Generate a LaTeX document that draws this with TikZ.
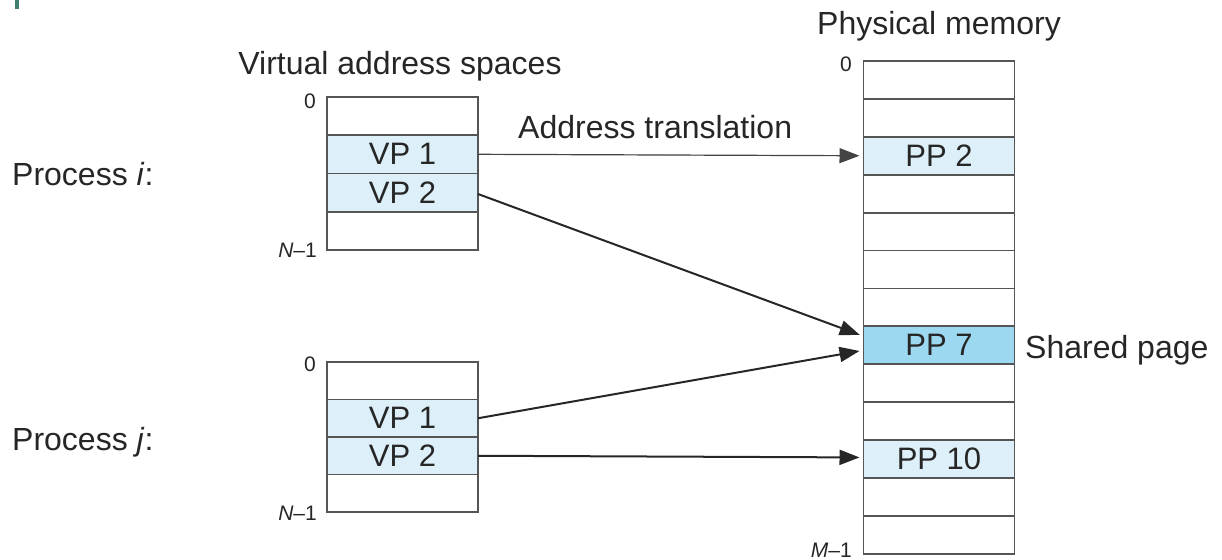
\documentclass[tikz,border=0pt]{standalone}
\usepackage{fontspec}
\setmainfont{Liberation Sans}
\usetikzlibrary{arrows.meta,calc}
\definecolor{lb}{HTML}{DDF0FA}
\definecolor{sb}{HTML}{9DD8F1}
\definecolor{linegray}{HTML}{555555}
\definecolor{textc}{HTML}{262626}
\definecolor{tealmark}{HTML}{3E7F6E}
\begin{document}
\begin{tikzpicture}[x=1pt,y=-1pt,
  cell/.style={draw=linegray,line width=1.8pt,minimum width=151pt,inner sep=0pt,outer sep=0pt,
    font=\fontsize{31}{31}\selectfont,text=textc,fill=white},
  vcell/.style={cell,minimum height=38.2pt},
  wcell/.style={cell,minimum height=37.5pt},
  pcell/.style={cell,minimum height=37.9pt},
  lbl/.style={font=\fontsize{32}{32}\selectfont,text=textc,inner sep=0pt},
  small/.style={font=\fontsize{21}{21}\selectfont,text=textc,inner sep=0pt},
  arr/.style={-{Triangle[length=20pt,width=15pt]},line width=2pt,draw=textc,fill=textc,shorten >=4pt},
  thinarr/.style={arr,line width=1.2pt,draw=linegray!80!black,fill=linegray!80!black}
]
\useasboundingbox (0,0) rectangle (1222,559);
\fill[tealmark] (15,0) rectangle (19,9);

% virtual address space of process i
\node[vcell] (vi0) at (402.5,116.1) {};
\node[vcell,fill=lb] (vi1) at (402.5,154.3) {VP 1};
\node[vcell,fill=lb] (vi2) at (402.5,192.5) {VP 2};
\node[vcell] (vi3) at (402.5,230.7) {};

% virtual address space of process j
\node[wcell] (vj0) at (402.5,380.75) {};
\node[wcell,fill=lb] (vj1) at (402.5,418.25) {VP 1};
\node[wcell,fill=lb] (vj2) at (402.5,455.75) {VP 2};
\node[wcell] (vj3) at (402.5,493.25) {};

% physical memory
\node[pcell] (pm0) at (939,79.95) {};
\node[pcell] (pm1) at (939,117.85) {};
\node[pcell,fill=lb] (pm2) at (939,155.75) {PP 2};
\node[pcell] (pm3) at (939,193.65) {};
\node[pcell] (pm4) at (939,231.55) {};
\node[pcell] (pm5) at (939,269.45) {};
\node[pcell] (pm6) at (939,307.35) {};
\node[pcell,fill=sb] (pm7) at (939,345.25) {PP 7};
\node[pcell] (pm8) at (939,383.15) {};
\node[pcell] (pm9) at (939,421.05) {};
\node[pcell,fill=lb] (pm10) at (939,458.95) {PP 10};
\node[pcell] (pm11) at (939,496.85) {};
\node[pcell] (pm12) at (939,534.75) {};

% labels
\node[lbl,anchor=base] (tv) at (400,75) {Virtual address spaces};
\node[lbl,anchor=base] (tp) at (939,35) {Physical memory};
\node[lbl,anchor=base west] (pi) at (12,185) {Process \textit{i}:};
\node[lbl,anchor=base west] (pj) at (12,450) {Process \textit{j}:};
\node[lbl,anchor=base west] (at) at (518,138) {Address translation};
\node[lbl,anchor=base west] (sp) at (1025,358) {Shared page};

\node[small,anchor=base east] (zi) at (316,109) {0};
\node[small,anchor=base east] (ni) at (317,257) {\textit{N}–1};
\node[small,anchor=base east] (zj) at (316,371) {0};
\node[small,anchor=base east] (nj) at (317,520) {\textit{N}–1};
\node[small,anchor=base east] (zp) at (852,72) {0};
\node[small,anchor=base east] (mp) at (852,557) {\textit{M}–1};

% translations
\draw[thinarr] (vi1.east) -- (pm2.west);
\draw[arr] ($(vi2.east)+(0,1.5)$) -- ($(pm7.west)+(0,-9)$);
\draw[arr] (vj1.east) -- ($(pm7.west)+(0,5)$);
\draw[arr] (vj2.east) -- ($(pm10.west)+(0,-1.5)$);
\end{tikzpicture}
\end{document}
